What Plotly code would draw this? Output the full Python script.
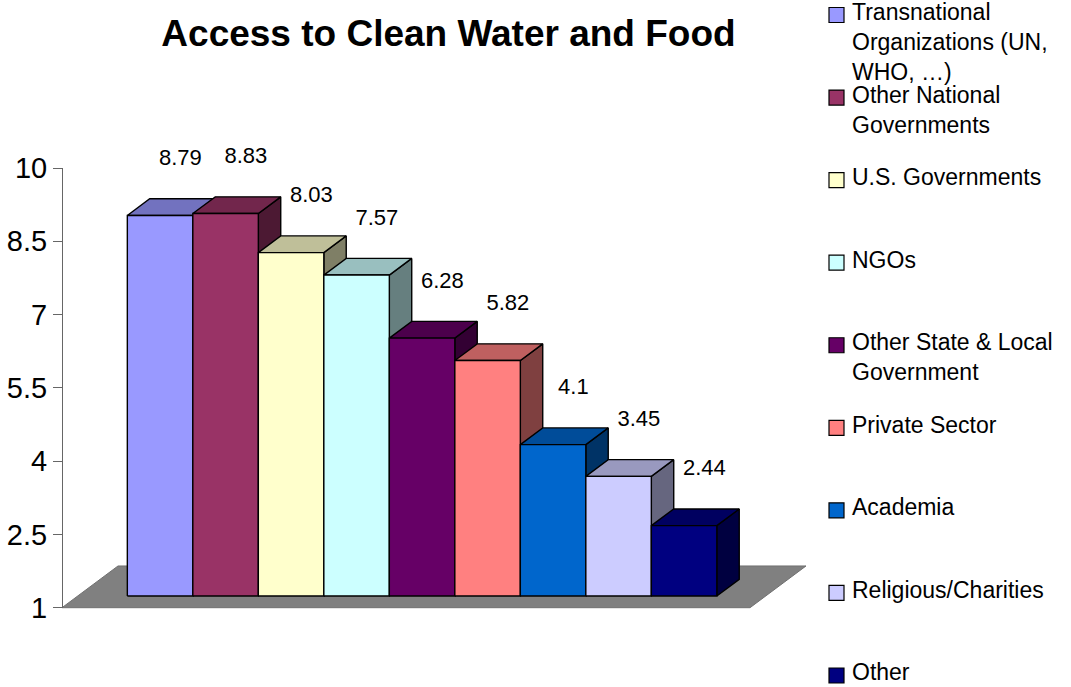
import textwrap
import plotly.graph_objects as go

# ---------------- data ----------------
categories = [
    "Transnational Organizations (UN, WHO, …)",
    "Other National Governments",
    "U.S. Governments",
    "NGOs",
    "Other State & Local Government",
    "Private Sector",
    "Academia",
    "Religious/Charities",
    "Other",
]
values = [8.79, 8.83, 8.03, 7.57, 6.28, 5.82, 4.1, 3.45, 2.44]
value_labels = ["8.79", "8.83", "8.03", "7.57", "6.28", "5.82", "4.1", "3.45", "2.44"]
tick_values = [1, 2.5, 4, 5.5, 7, 8.5, 10]
tick_labels = ["1", "2.5", "4", "5.5", "7", "8.5", "10"]
front_colors = ["#9999FF", "#993366", "#FFFFCC", "#CCFFFF", "#660066",
                "#FF8080", "#0066CC", "#CCCCFF", "#000080"]
title_text = "Access to Clean Water and Food"

# ---------------- style / geometry ----------------
W, H = 1071, 687
FONT = "Arial, Liberation Sans, sans-serif"
X_RANGE = [-2.2046, 14.1466]
Y_RANGE = [-0.6233, 13.440]
DX, DY = 0.855, 0.854          # full floor depth vector (axis units)
D0, D1 = 0.28, 0.68            # bar depth span (fraction of floor depth)
FLOOR_X = (-1.258, 9.246)
BASE = 1.0
LABEL_DX, LABEL_DY = 0.55, 1.38


def shade(hexcol, f):
    h = hexcol.lstrip("#")
    r, g, b = (int(h[k:k + 2], 16) for k in (0, 2, 4))
    return "#%02X%02X%02X" % (int(r * f), int(g * f), int(b * f))


def proj(x, d, v):
    return x + d * DX, v + d * DY


def face(points, color, lw=1.4, lc="black"):
    xs, ys = zip(*[proj(*p) for p in points])
    xs = list(xs) + [xs[0]]
    ys = list(ys) + [ys[0]]
    return go.Scatter(x=xs, y=ys, mode="lines", fill="toself", fillcolor=color,
                      line=dict(color=lc, width=lw), hoverinfo="skip",
                      showlegend=False)


traces = []
# floor
fx0, fx1 = FLOOR_X
traces.append(face([(fx0, 0, BASE), (fx1, 0, BASE), (fx1, 1, BASE), (fx0, 1, BASE)],
                   "#808080", lw=1, lc="#707070"))

# bars, drawn left to right (painter's order)
for i, (v, c) in enumerate(zip(values, front_colors)):
    xl, xr = i - 0.5, i + 0.5
    traces.append(face([(xr, D0, BASE), (xr, D1, BASE), (xr, D1, v), (xr, D0, v)],
                       shade(c, 0.5)))
    traces.append(face([(xl, D0, v), (xr, D0, v), (xr, D1, v), (xl, D1, v)],
                       shade(c, 0.75)))
    traces.append(face([(xl, D0, BASE), (xr, D0, BASE), (xr, D0, v), (xl, D0, v)], c))

# value labels
traces.append(go.Scatter(
    x=[i + LABEL_DX for i in range(len(values))],
    y=[v + LABEL_DY for v in values],
    mode="text", text=value_labels, textposition="middle center",
    textfont=dict(family=FONT, size=22, color="black"),
    cliponaxis=False, hoverinfo="skip", showlegend=False))

# dummy trace for visible value axis
traces.append(go.Scatter(x=[None], y=[None], yaxis="y2", showlegend=False,
                         hoverinfo="skip"))

fig = go.Figure(traces)

yspan = Y_RANGE[1] - Y_RANGE[0]
xspan = X_RANGE[1] - X_RANGE[0]
ax_dom = [(tick_values[0] - Y_RANGE[0]) / yspan, (tick_values[-1] - Y_RANGE[0]) / yspan]
ax_pos = (FLOOR_X[0] - X_RANGE[0]) / xspan

# manual legend
annotations = []
shapes = []
LEG_TOP, LEG_STEP = 12.0, 82.56
for i, (name, c) in enumerate(zip(categories, front_colors)):
    cc = LEG_TOP + LEG_STEP * i
    lines = textwrap.wrap(name, width=19)
    annotations.append(dict(
        text="<br>".join(lines), xref="paper", yref="paper",
        x=849.5 / W, y=1 - (cc - 15) / H, xanchor="left", yanchor="top",
        align="left", showarrow=False,
        font=dict(family=FONT, size=23, color="black")))
    shapes.append(dict(
        type="rect", xref="paper", yref="paper",
        x0=829 / W, x1=844 / W, y0=1 - (cc + 3 + 7.5) / H, y1=1 - (cc + 3 - 7.5) / H,
        fillcolor=c, line=dict(color="black", width=1.2)))

fig.update_layout(
    width=W, height=H,
    margin=dict(l=0, r=0, t=0, b=0, autoexpand=False),
    paper_bgcolor="white", plot_bgcolor="rgba(0,0,0,0)",
    showlegend=False,
    font=dict(family=FONT, color="black"),
    title=dict(text=title_text, x=448.5 / W, xanchor="center",
               y=1 - 33 / H, yanchor="middle",
               font=dict(family=FONT, size=37, color="black", weight="bold")),
    xaxis=dict(range=X_RANGE, visible=False, domain=[0, 1], fixedrange=True),
    yaxis=dict(range=Y_RANGE, visible=False, domain=[0, 1], fixedrange=True),
    yaxis2=dict(range=[tick_values[0], tick_values[-1]], domain=ax_dom,
                anchor="free", position=ax_pos, side="left",
                showline=True, linecolor="#666666", linewidth=1,
                ticks="outside", ticklen=9, tickcolor="#666666",
                tickvals=tick_values, ticktext=tick_labels,
                tickfont=dict(family=FONT, size=29, color="black"),
                showgrid=False, zeroline=False, fixedrange=True,
                automargin=False),
    annotations=annotations,
    shapes=shapes,
)

fig.write_html("out.html")
